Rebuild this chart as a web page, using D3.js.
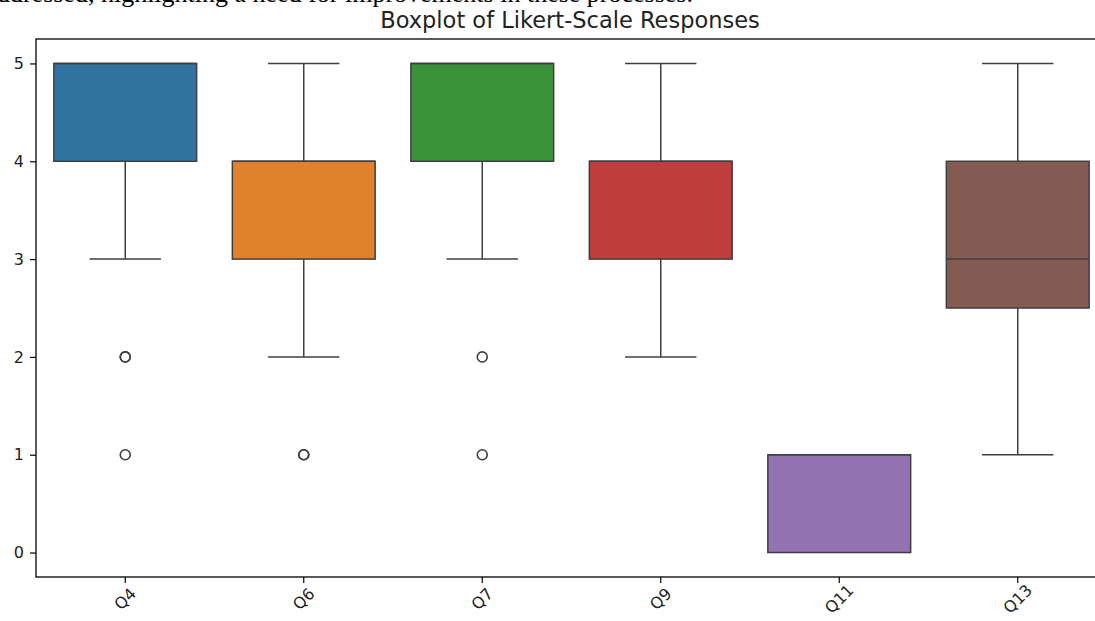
<!DOCTYPE html>
<html>
<head>
<meta charset="utf-8">
<script src="https://cdn.jsdelivr.net/npm/d3@7"></script>
<style>
  body { margin: 0; background: #fff; overflow: hidden; }
  svg { display: block; }
  .tick text { font-size: 16px; font-family: "DejaVu Sans", sans-serif; fill: #222; }
</style>
</head>
<body>
<svg width="1095" height="621" font-family="DejaVu Sans"></svg>
<script>
const questions = ['Q4', 'Q6', 'Q7', 'Q9', 'Q11', 'Q13'];
const q1 = [4, 3, 4, 3, 0, 2.5];
const medians = [5, 4, 5, 4, 1, 3];
const q3 = [5, 4, 5, 4, 1, 4];
const whiskerLow = [3, 2, 3, 2, 0, 1];
const whiskerHigh = [5, 5, 5, 5, 1, 5];
const outliers = [[2, 2, 1], [1, 1], [2, 1], [], [], []];
const colors = ['#3274a1', '#e1812c', '#3a923a', '#c03d3e', '#9372b2', '#845b53'];
const yTicks = [0, 1, 2, 3, 4, 5];

const svg = d3.select('svg');
const margin = {top: 39, left: 36, bottom: 44};
const plotRight = 1107;
const height = +svg.attr('height');
const innerHeight = height - margin.top - margin.bottom;
const innerWidth = plotRight - margin.left;
const edge = '#3f3f3f';

const data = questions.map((q, i) => ({
  q, q1: q1[i], med: medians[i], q3: q3[i],
  lo: whiskerLow[i], hi: whiskerHigh[i], out: outliers[i], color: colors[i]
}));

// cropped line of surrounding document text
svg.append('text')
  .attr('x', 693)
  .attr('y', 2)
  .attr('text-anchor', 'end')
  .attr('font-family', '"Liberation Serif", serif')
  .attr('font-size', 26)
  .attr('fill', '#000')
  .text('addressed, highlighting a need for improvements in these processes.');

const xScale = d3.scaleBand()
  .domain(questions)
  .range([0, innerWidth]);

const yScale = d3.scaleLinear()
  .domain([-0.25, 5.25])
  .range([innerHeight, 0]);

const g = svg.append('g')
  .attr('transform', `translate(${margin.left}, ${margin.top})`);

const boxW = xScale.bandwidth() * 0.8;
const capW = boxW / 2;

const boxes = g.selectAll('.box').data(data)
  .enter().append('g')
    .attr('class', 'box')
    .attr('transform', d => `translate(${xScale(d.q) + xScale.bandwidth() / 2}, 0)`);

// whiskers
boxes.append('line')
  .attr('y1', d => yScale(d.q1)).attr('y2', d => yScale(d.lo))
  .attr('stroke', edge).attr('stroke-width', 1.5);
boxes.append('line')
  .attr('y1', d => yScale(d.q3)).attr('y2', d => yScale(d.hi))
  .attr('stroke', edge).attr('stroke-width', 1.5);
boxes.filter(d => d.lo < d.q1).append('line')
  .attr('x1', -capW / 2).attr('x2', capW / 2)
  .attr('y1', d => yScale(d.lo)).attr('y2', d => yScale(d.lo))
  .attr('stroke', edge).attr('stroke-width', 1.5);
boxes.filter(d => d.hi > d.q3).append('line')
  .attr('x1', -capW / 2).attr('x2', capW / 2)
  .attr('y1', d => yScale(d.hi)).attr('y2', d => yScale(d.hi))
  .attr('stroke', edge).attr('stroke-width', 1.5);

boxes.append('rect')
  .attr('x', -boxW / 2)
  .attr('width', boxW)
  .attr('y', d => yScale(d.q3))
  .attr('height', d => yScale(d.q1) - yScale(d.q3))
  .attr('fill', d => d.color)
  .attr('stroke', edge)
  .attr('stroke-width', 1.5);

boxes.append('line')
  .attr('x1', -boxW / 2).attr('x2', boxW / 2)
  .attr('y1', d => yScale(d.med)).attr('y2', d => yScale(d.med))
  .attr('stroke', edge).attr('stroke-width', 1.5);

boxes.selectAll('circle').data(d => d.out)
  .enter().append('circle')
    .attr('cy', v => yScale(v))
    .attr('r', 5)
    .attr('fill', 'none')
    .attr('stroke', edge)
    .attr('stroke-width', 1.6);

// axes
const yAxisG = g.append('g')
  .call(d3.axisLeft(yScale).tickValues(yTicks).tickSize(6).tickPadding(6).tickFormat(d3.format('d')));
yAxisG.select('.domain').remove();
yAxisG.selectAll('.tick line').attr('stroke', '#000').attr('stroke-width', 1.2);

const xAxisG = g.append('g')
  .attr('transform', `translate(0, ${innerHeight})`)
  .call(d3.axisBottom(xScale).tickSize(6).tickPadding(0));
xAxisG.select('.domain').remove();
xAxisG.selectAll('.tick line').attr('stroke', '#000').attr('stroke-width', 1.2);
xAxisG.selectAll('text')
  .attr('y', 0)
  .attr('dy', 0)
  .attr('text-anchor', 'middle')
  .attr('dominant-baseline', 'central')
  .attr('transform', 'translate(0, 22) rotate(-45)');

// spines
g.append('rect')
  .attr('width', innerWidth)
  .attr('height', innerHeight)
  .attr('fill', 'none')
  .attr('stroke', '#000')
  .attr('stroke-width', 1.3);

svg.append('text')
  .attr('x', 570)
  .attr('y', 28)
  .attr('text-anchor', 'middle')
  .attr('font-size', 22.5)
  .attr('fill', '#222')
  .text('Boxplot of Likert-Scale Responses');
</script>
</body>
</html>
